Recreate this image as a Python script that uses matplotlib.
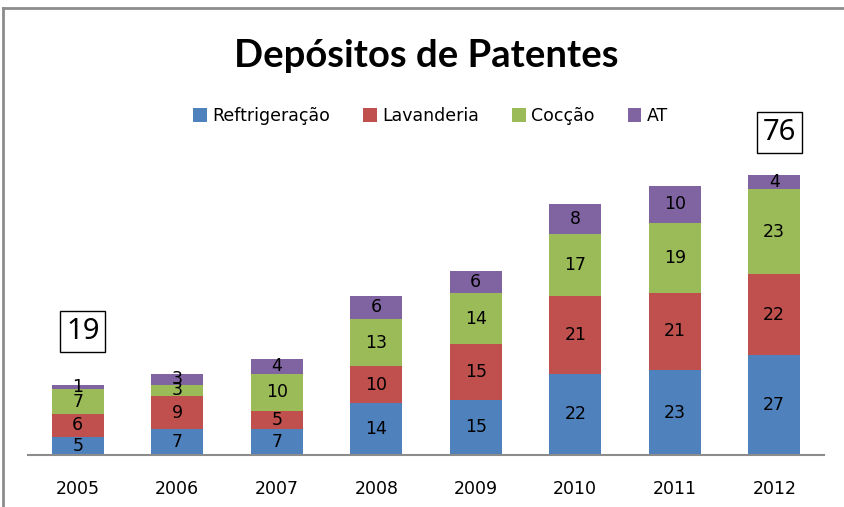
import numpy as np
import matplotlib.pyplot as plt
from matplotlib.lines import Line2D

# Dados
anos = ['2005', '2006', '2007', '2008', '2009', '2010', '2011', '2012']
refrigeracao = [5, 7, 7, 14, 15, 22, 23, 27]
lavanderia = [6, 9, 5, 10, 15, 21, 21, 22]
coccao = [7, 3, 10, 13, 14, 17, 19, 23]
at = [1, 3, 4, 6, 6, 8, 10, 4]
series = [('Reftrigeração', refrigeracao, '#4F81BD'),
          ('Lavanderia', lavanderia, '#C0504D'),
          ('Cocção', coccao, '#9BBB59'),
          ('AT', at, '#8064A2')]

plt.rcParams['font.family'] = ['DejaVu Sans']

fig = plt.figure(figsize=(8.44, 5.07), dpi=100)
ax = fig.add_axes([28/844, 52/507, 796/844, 0.582])

x = np.arange(len(anos))
base = np.zeros(len(anos))
for nome, vals, cor in series:
    vals = np.array(vals)
    ax.bar(x, vals, 0.52, bottom=base, color=cor, label=nome, zorder=2)
    for xi, b, v in zip(x, base, vals):
        ax.text(xi, b + v / 2, str(v), ha='center', va='center', fontsize=12.5, zorder=3)
    base = base + vals

totais = base
# caixas com o total do primeiro e do ultimo ano
for i, dy in [(0, 14.5), (len(anos) - 1, 11.5)]:
    ax.text(x[i] + 0.05, totais[i] + dy, str(int(totais[i])), ha='center', va='center',
            fontsize=21, family='Noto Sans',
            bbox=dict(boxstyle='square,pad=0.2', fc='white', ec='black', lw=1))

ax.set_xlim(-0.5, len(anos) - 0.5)
ax.set_ylim(0, 80)
ax.set_xticks(x)
ax.set_xticklabels(anos, fontsize=12.5)
ax.tick_params(axis='x', length=0, pad=18)
ax.set_yticks([])
for s in ['top', 'right', 'left']:
    ax.spines[s].set_visible(False)
ax.spines['bottom'].set_color('#8c8c8c')
ax.spines['bottom'].set_linewidth(1.5)

fig.text(0.505, 0.89, 'Depósitos de Patentes', ha='center', va='center',
         fontsize=27.5, fontweight='bold', family='Lato')
fig.legend(loc='center', bbox_to_anchor=(0.51, 0.771), ncol=4, frameon=False,
           fontsize=12.5, handlelength=0.8, handleheight=0.8, handletextpad=0.3,
           columnspacing=1.9)

# moldura do grafico (so se ve topo e esquerda)
fig.add_artist(Line2D([3/844, 3/844], [0, 1 - 8/507], color='#8c8c8c', lw=2))
fig.add_artist(Line2D([3/844, 1], [1 - 8/507, 1 - 8/507], color='#8c8c8c', lw=2))

fig.savefig('out.png', dpi=100)
